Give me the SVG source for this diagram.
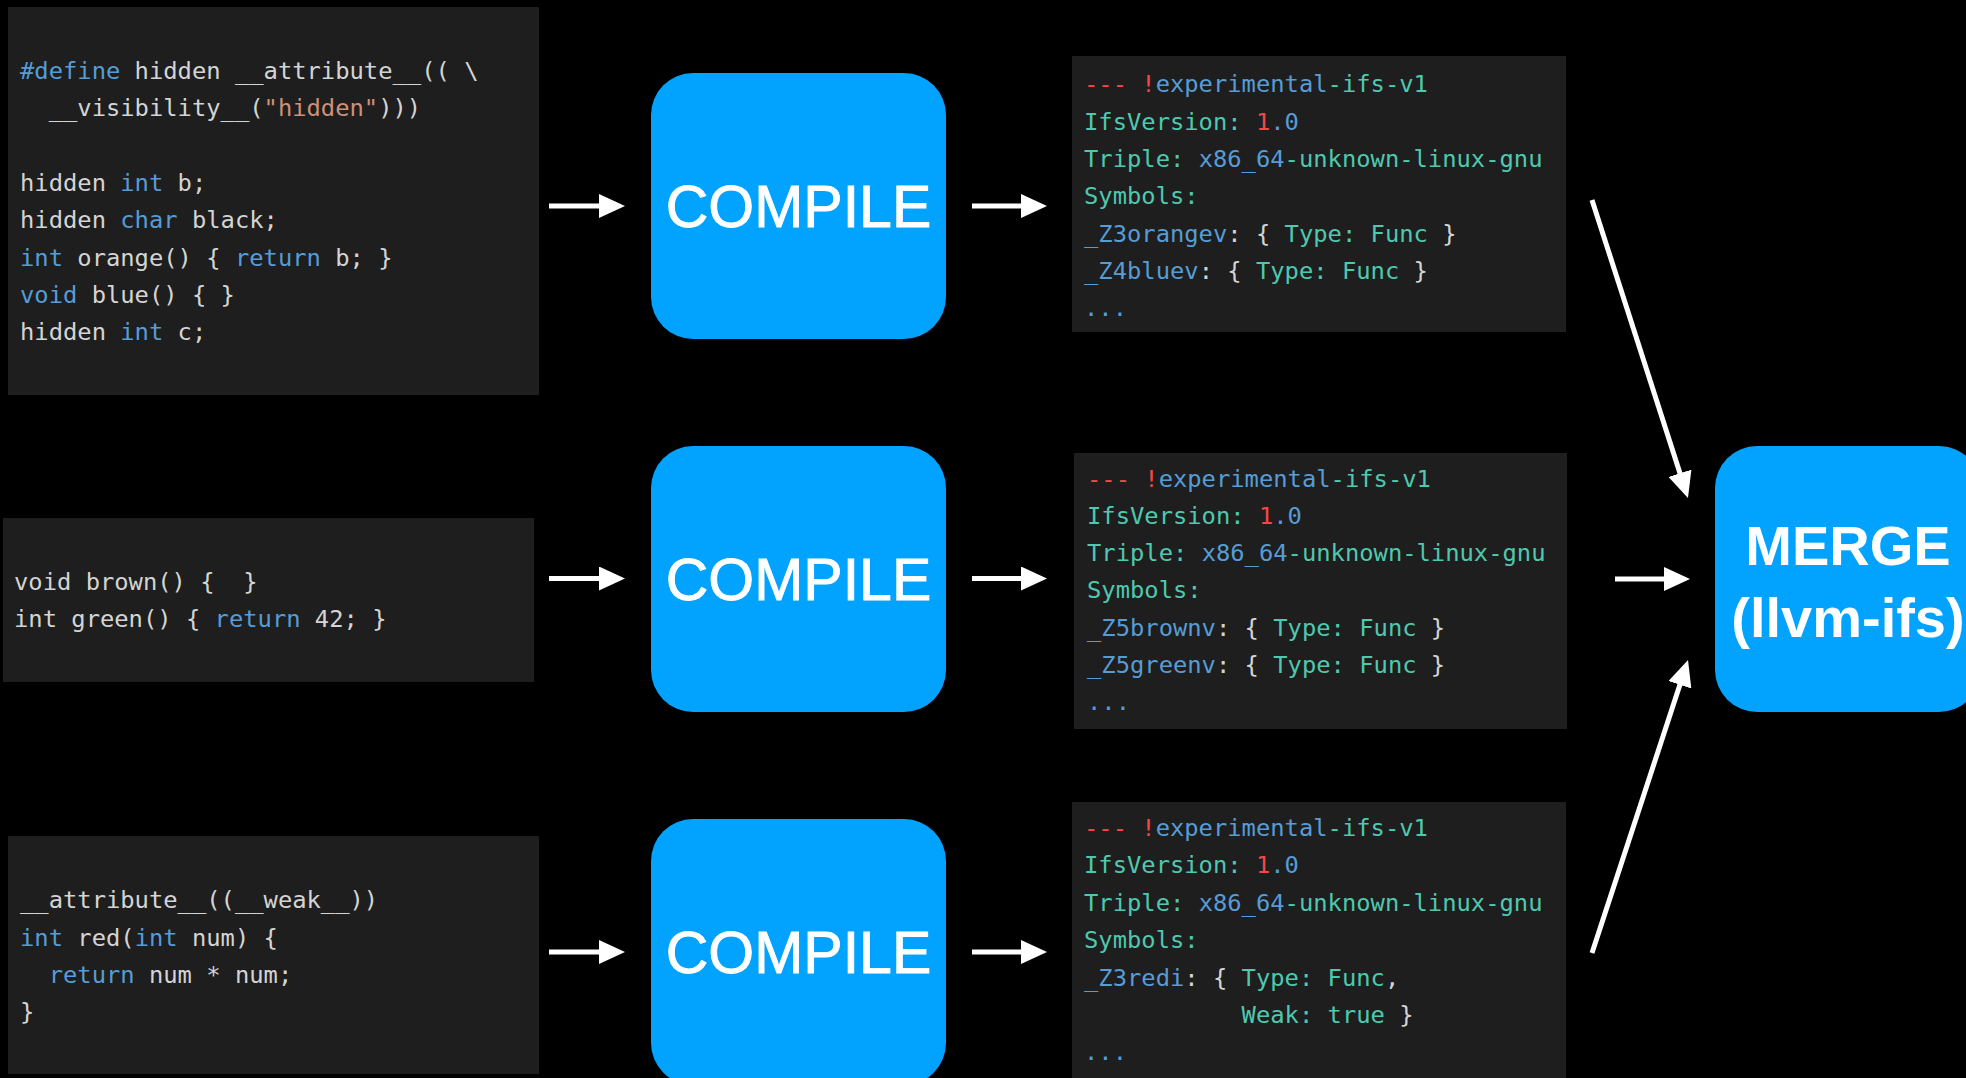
<svg xmlns="http://www.w3.org/2000/svg" width="1966" height="1078" viewBox="0 0 1966 1078">
<style>
.bg{fill:#000}
.panel{fill:#1e1e1e}
.box{fill:#02a3fe}
.code{font-family:"DejaVu Sans Mono","Liberation Mono",monospace;font-size:23.8px;fill:#d4d4d4;white-space:pre}
.k{fill:#569cd6}
.s{fill:#ce9178}
.t{fill:#4ec9b0}
.r{fill:#f44747}
.lbl{font-family:"Liberation Sans",Arial,sans-serif;fill:#fff;text-anchor:middle}
.compile{font-size:59px;stroke:#fff;stroke-width:0.9}
.merge{font-size:56px;font-weight:bold}
.arrow{stroke:#fff;stroke-width:5;fill:none;marker-end:url(#head)}
</style>
<defs>
<marker id="head" markerUnits="userSpaceOnUse" viewBox="0 0 26 24" refX="16" refY="12" markerWidth="26" markerHeight="24" orient="auto">
<path d="M0,0 L26,12 L0,24 Z" fill="#fff"/>
</marker>
</defs>
<rect class="bg" x="0" y="0" width="1966" height="1078"/>

<g id="src1">
<rect class="panel" x="8" y="7" width="531" height="388"/>
<text class="code" x="20" y="79" xml:space="preserve"><tspan class="k">#define</tspan> hidden __attribute__(( \</text>
<text class="code" x="20" y="116" xml:space="preserve">  __visibility__(<tspan class="s">"hidden"</tspan>)))</text>
<text class="code" x="20" y="191" xml:space="preserve">hidden <tspan class="k">int</tspan> b;</text>
<text class="code" x="20" y="228" xml:space="preserve">hidden <tspan class="k">char</tspan> black;</text>
<text class="code" x="20" y="266" xml:space="preserve"><tspan class="k">int</tspan> orange() { <tspan class="k">return</tspan> b; }</text>
<text class="code" x="20" y="303" xml:space="preserve"><tspan class="k">void</tspan> blue() { }</text>
<text class="code" x="20" y="340" xml:space="preserve">hidden <tspan class="k">int</tspan> c;</text>
</g>

<g id="src2">
<rect class="panel" x="3" y="518" width="531" height="164"/>
<text class="code" x="14" y="590" xml:space="preserve">void brown() {  }</text>
<text class="code" x="14" y="627" xml:space="preserve">int green() { <tspan class="k">return</tspan> 42; }</text>
</g>

<g id="src3">
<rect class="panel" x="8" y="836" width="531" height="238"/>
<text class="code" x="20" y="908" xml:space="preserve">__attribute__((__weak__))</text>
<text class="code" x="20" y="946" xml:space="preserve"><tspan class="k">int</tspan> red(<tspan class="k">int</tspan> num) {</text>
<text class="code" x="20" y="983" xml:space="preserve">  <tspan class="k">return</tspan> num * num;</text>
<text class="code" x="20" y="1020" xml:space="preserve">}</text>
</g>

<g id="compile1">
<rect class="box" x="651" y="73" width="295" height="266" rx="42"/>
<text class="lbl compile" x="798.5" y="227">COMPILE</text>
</g>
<g id="compile2">
<rect class="box" x="651" y="446" width="295" height="266" rx="42"/>
<text class="lbl compile" x="798.5" y="600">COMPILE</text>
</g>
<g id="compile3">
<rect class="box" x="651" y="819" width="295" height="266" rx="42"/>
<text class="lbl compile" x="798.5" y="973">COMPILE</text>
</g>

<g id="ifs1">
<rect class="panel" x="1072" y="56" width="494" height="276"/>
<text class="code" x="1084" y="92" xml:space="preserve"><tspan class="r">--- !</tspan><tspan class="k">experimental</tspan><tspan class="t">-ifs-v1</tspan></text>
<text class="code" x="1084" y="129.5" xml:space="preserve"><tspan class="t">IfsVersion: </tspan><tspan class="r">1</tspan><tspan class="k">.0</tspan></text>
<text class="code" x="1084" y="167" xml:space="preserve"><tspan class="t">Triple: </tspan><tspan class="k">x86_64</tspan><tspan class="t">-unknown-linux-gnu</tspan></text>
<text class="code t" x="1084" y="204">Symbols:</text>
<text class="code" x="1084" y="241.5" xml:space="preserve"><tspan class="k">_Z3orangev</tspan>: { <tspan class="t">Type: Func</tspan> }</text>
<text class="code" x="1084" y="279" xml:space="preserve"><tspan class="k">_Z4bluev</tspan>: { <tspan class="t">Type: Func</tspan> }</text>
<text class="code k" x="1084" y="316">...</text>
</g>

<g id="ifs2">
<rect class="panel" x="1074" y="453" width="493" height="276"/>
<text class="code" x="1087" y="487" xml:space="preserve"><tspan class="r">--- !</tspan><tspan class="k">experimental</tspan><tspan class="t">-ifs-v1</tspan></text>
<text class="code" x="1087" y="524" xml:space="preserve"><tspan class="t">IfsVersion: </tspan><tspan class="r">1</tspan><tspan class="k">.0</tspan></text>
<text class="code" x="1087" y="561" xml:space="preserve"><tspan class="t">Triple: </tspan><tspan class="k">x86_64</tspan><tspan class="t">-unknown-linux-gnu</tspan></text>
<text class="code t" x="1087" y="598">Symbols:</text>
<text class="code" x="1087" y="636" xml:space="preserve"><tspan class="k">_Z5brownv</tspan>: { <tspan class="t">Type: Func</tspan> }</text>
<text class="code" x="1087" y="673" xml:space="preserve"><tspan class="k">_Z5greenv</tspan>: { <tspan class="t">Type: Func</tspan> }</text>
<text class="code k" x="1087" y="710">...</text>
</g>

<g id="ifs3">
<rect class="panel" x="1072" y="802" width="494" height="276"/>
<text class="code" x="1084" y="836" xml:space="preserve"><tspan class="r">--- !</tspan><tspan class="k">experimental</tspan><tspan class="t">-ifs-v1</tspan></text>
<text class="code" x="1084" y="873" xml:space="preserve"><tspan class="t">IfsVersion: </tspan><tspan class="r">1</tspan><tspan class="k">.0</tspan></text>
<text class="code" x="1084" y="911" xml:space="preserve"><tspan class="t">Triple: </tspan><tspan class="k">x86_64</tspan><tspan class="t">-unknown-linux-gnu</tspan></text>
<text class="code t" x="1084" y="948">Symbols:</text>
<text class="code" x="1084" y="986" xml:space="preserve"><tspan class="k">_Z3redi</tspan>: { <tspan class="t">Type: Func</tspan>,</text>
<text class="code" x="1084" y="1023" xml:space="preserve">           <tspan class="t">Weak: true</tspan> }</text>
<text class="code k" x="1084" y="1060">...</text>
</g>

<g id="merge">
<rect class="box" x="1715" y="446" width="266" height="266" rx="42"/>
<text class="lbl merge" x="1848" y="565">MERGE</text>
<text class="lbl merge" x="1848" y="637">(llvm-ifs)</text>
</g>

<g id="connectors">
<line class="arrow" x1="549" y1="206" x2="615" y2="206"/>
<line class="arrow" x1="972" y1="206" x2="1037" y2="206"/>
<line class="arrow" x1="549" y1="578.5" x2="615" y2="578.5"/>
<line class="arrow" x1="972" y1="578.5" x2="1037" y2="578.5"/>
<line class="arrow" x1="549" y1="952" x2="615" y2="952"/>
<line class="arrow" x1="972" y1="952" x2="1037" y2="952"/>
<line class="arrow" x1="1592" y1="200" x2="1684.9" y2="488.5"/>
<line class="arrow" x1="1615" y1="579" x2="1680" y2="579"/>
<line class="arrow" x1="1592" y1="953" x2="1684.9" y2="669.5"/>
</g>
</svg>
